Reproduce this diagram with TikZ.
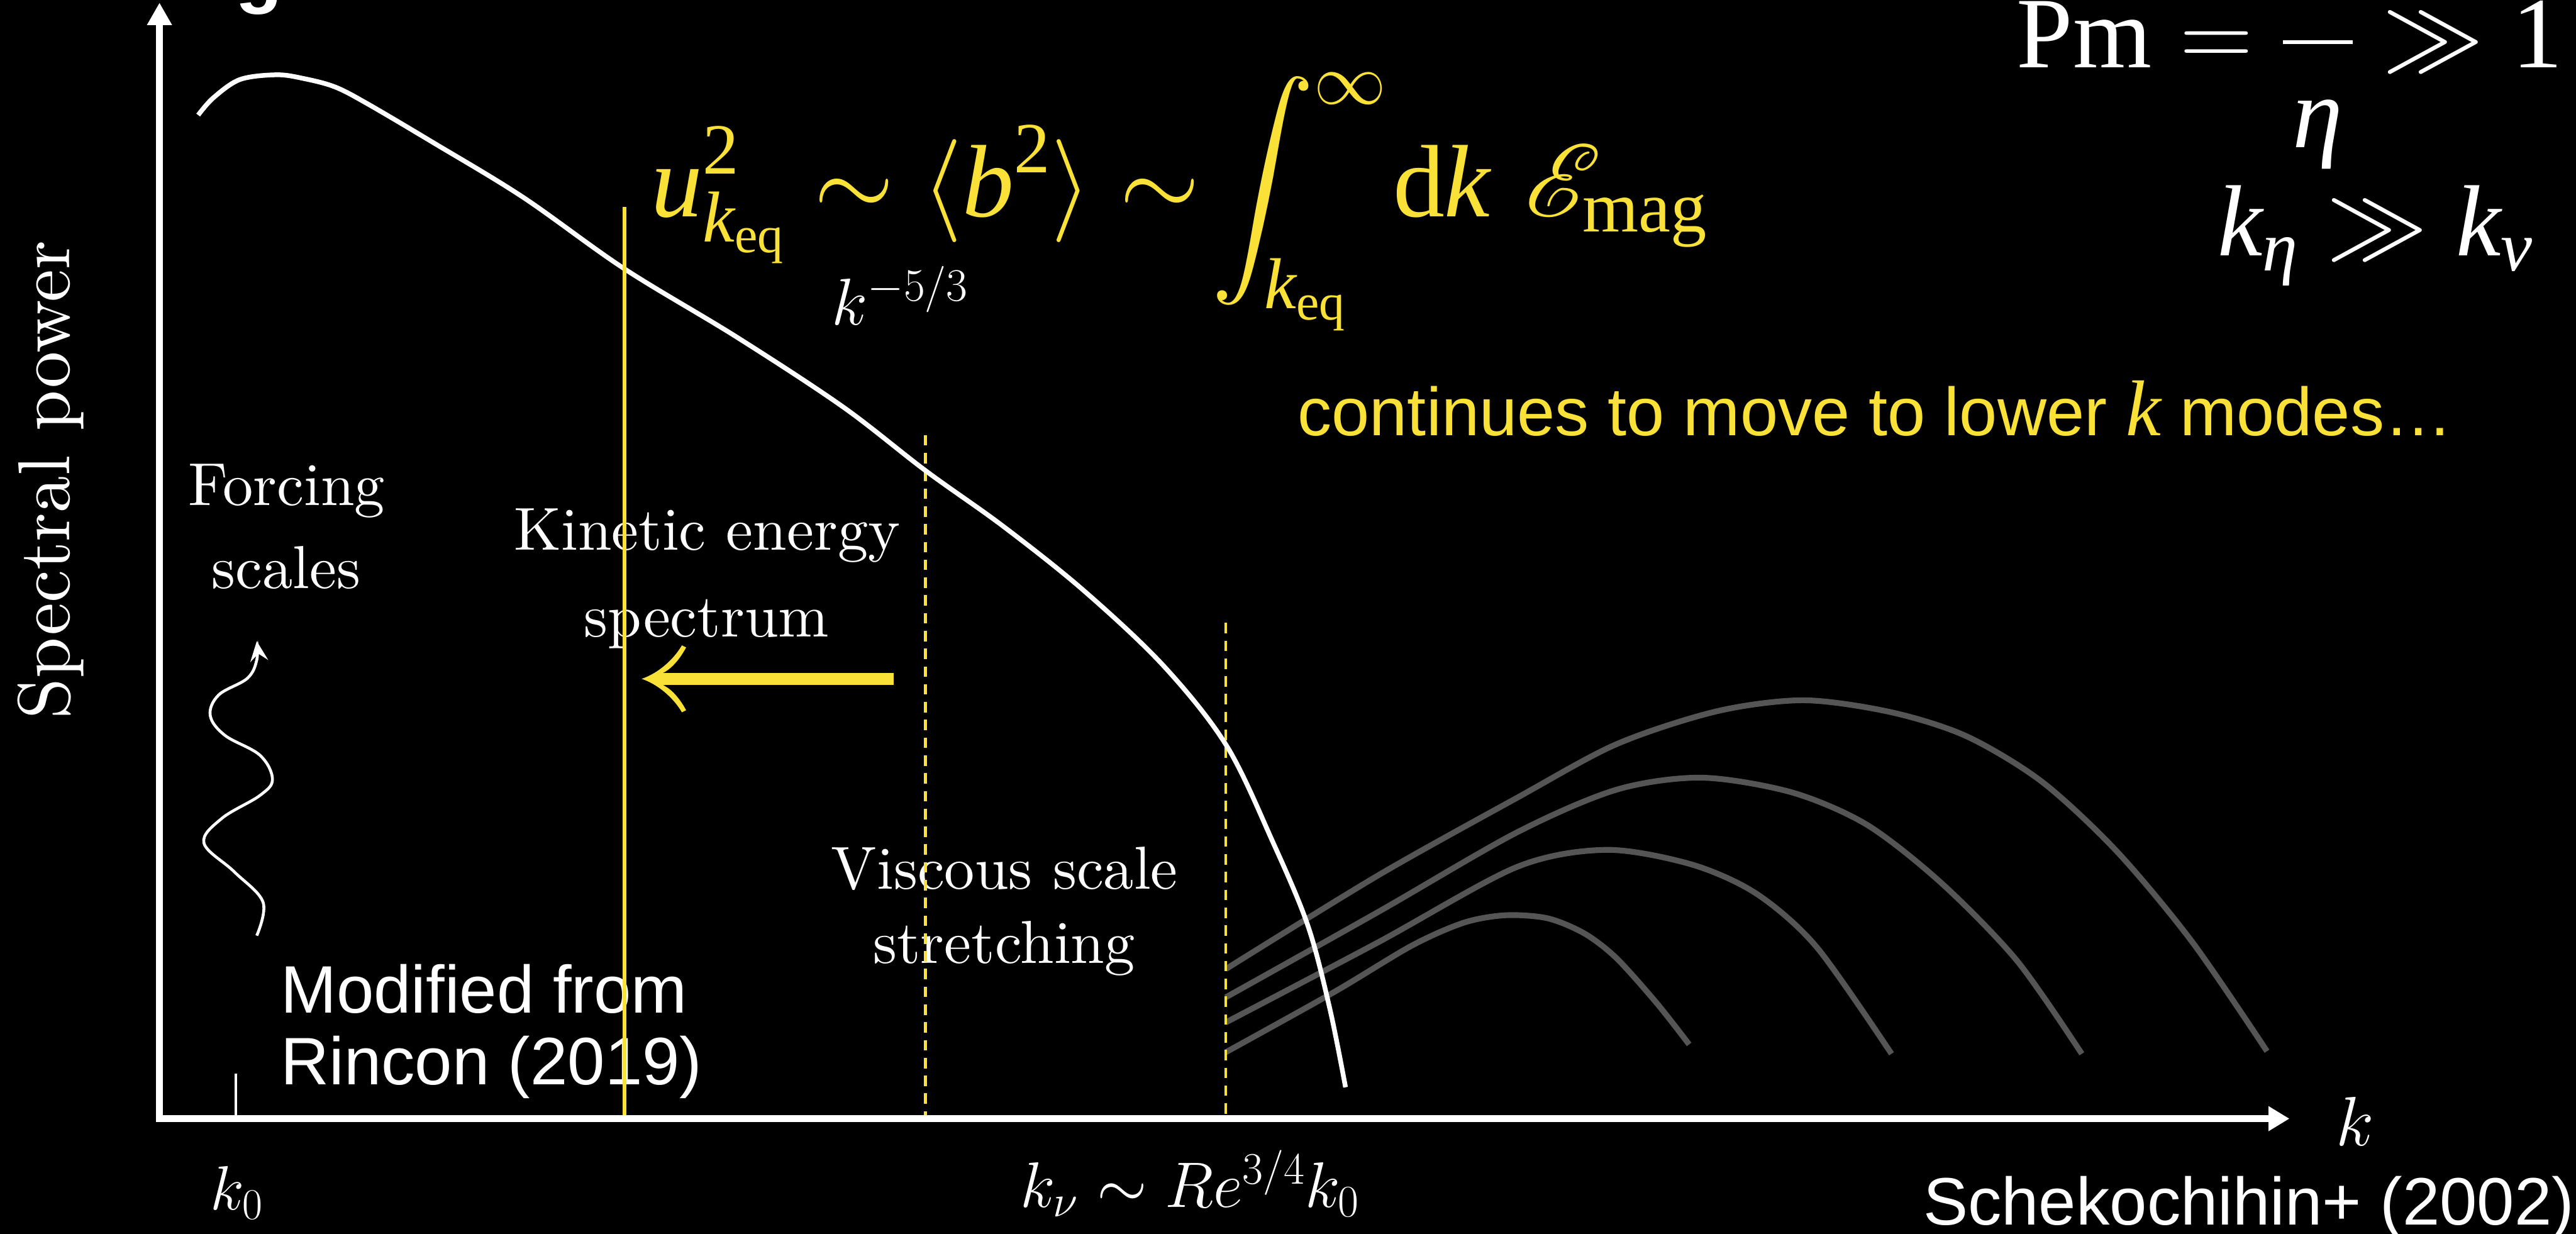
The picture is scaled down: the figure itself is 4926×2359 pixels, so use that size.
\documentclass[tikz,border=0pt]{standalone}
\usepackage{fix-cm}
\usepackage{amsmath}
\usepackage{mathrsfs}
\usepackage{fontspec}
\DeclareFontShape{OMX}{cmex}{m}{n}{<->cmex10}{}
\DeclareFontFamily{U}{rsfs}{\skewchar\font127 }
\DeclareFontShape{U}{rsfs}{m}{n}{<->rsfs10}{}
\usetikzlibrary{arrows.meta}
\newfontfamily\hel{Liberation Sans}
\newfontfamily\tms{Liberation Serif}
\newfontfamily\lmten{lmroman10-regular}[Extension=.otf]
\definecolor{ylw}{RGB}{249,225,56}
\definecolor{grayc}{RGB}{85,85,85}
\newcommand\tI[1]{\text{\tms\itshape #1}}
\newcommand\tR[1]{\text{\tms #1}}
\begin{document}
\begin{tikzpicture}[x=0.01cm,y=-0.01cm,
  lm/.style={text=white,inner sep=0,font=\lmten\fontsize{33}{40}\selectfont,anchor=base},
  lmmath/.style={text=white,inner sep=0,anchor=base west},
  helv/.style={text=white,inner sep=0,font=\hel\fontsize{36.5}{44}\selectfont,anchor=base west},
  ytext/.style={text=ylw,inner sep=0,anchor=base west},
  wtext/.style={text=white,inner sep=0,anchor=base west},
  graycurve/.style={draw=grayc,line width=0.11cm},
  whitecurve/.style={draw=white,line width=0.09cm},
  axisline/.style={draw=white,line width=0.13cm,line join=miter,
     {Triangle[length=0.43cm,width=0.45cm]}-{Triangle[length=0.40cm,width=0.45cm]}},
  ydash/.style={draw=ylw,line width=0.055cm,dash pattern=on 0.2cm off 0.14cm},
  ysolid/.style={draw=ylw,line width=0.08cm},
  wave/.style={draw=white,line width=0.055cm,-{Stealth[length=0.38cm,width=0.34cm,inset=0.14cm]}}]
\useasboundingbox (0,0) rectangle (4926,2359);
\fill[black] (0,0) rectangle (4926,2359);

% cut-off title fragment
\node[text=white,inner sep=0,anchor=base,font=\hel\bfseries\fontsize{42}{42}\selectfont] (gfrag) at (495,-3) {g};

% magnetic spectra (gray)
\draw[graycurve] plot[smooth,tension=0.5] coordinates {(2344,1853) (2635,1674) (2900,1526) (3091,1423) (3283,1360) (3450,1339) (3617,1362) (3761,1408) (3905,1495) (4048,1628) (4192,1801) (4335,2010)};
\draw[graycurve] plot[smooth,tension=0.5] coordinates {(2344,1907) (2635,1744) (2900,1592) (3091,1510) (3254,1487) (3426,1515) (3570,1577) (3713,1689) (3857,1837) (3981,2015)};
\draw[graycurve] plot[smooth,tension=0.5] coordinates {(2344,1955) (2635,1802) (2900,1658) (3072,1625) (3235,1653) (3359,1709) (3474,1811) (3617,2015)};
\draw[graycurve] plot[smooth,tension=0.5] coordinates {(2344,2012) (2551,1897) (2700,1808) (2800,1764) (2880,1750) (2960,1756) (3030,1785) (3091,1832) (3168,1918) (3230,1997)};

% labels (white, Latin Modern)
\node[lm,font=\lmten\fontsize{40}{48}\selectfont,rotate=90] (spec) at (133,918) {Spectral power};
\node[lm] (forc1) at (548,966) {Forcing};
\node[lm] (forc2) at (547,1125) {scales};
\node[lm] (kin1) at (1352,1052) {Kinetic energy};
\node[lm] (kin2) at (1351,1218) {spectrum};
\node[lm] (visc1) at (1921,1700) {Viscous scale};
\node[lm] (visc2) at (1920,1842) {stretching};
\node[lmmath,font=\fontsize{36}{40}\selectfont] (kfive) at (1590,621) {$k^{-5/3}$};
\node[lmmath,font=\fontsize{34}{40}\selectfont] (k0lab) at (402,2313) {$k_0$};
\node[lmmath,font=\fontsize{35}{40}\selectfont] (knu) at (1951,2308) {$k_\nu \sim Re^{3/4}k_0$};
\node[lmmath,font=\fontsize{38}{40}\selectfont] (klab) at (4466,2190) {$k$};

% Helvetica notes
\node[helv] (mod1) at (536,1937) {Modified from};
\node[helv] (mod2) at (536,2074) {Rincon (2019)};
\node[helv] (schek) at (3677,2342) {Schekochihin+ (2002)};
\node[ytext,font=\hel\fontsize{37}{44}\selectfont] (cont) at (2481,833) {continues to move to lower {\tms\itshape\fontsize{43}{44}\selectfont k} modes…};

% yellow formula
\node[ytext,font=\fontsize{56}{60}\selectfont] (eqn) at (1245,414)
  {$\displaystyle \tI{u}^{\tR{2}}_{\tI{k}_{\tR{eq}}} \sim \langle \tI{b}^{\tR{2}} \rangle \sim \mkern-3mu \int_{\mkern-1mu\tI{k}_{\tR{eq}}}^{\infty} \mkern-2mu \tR{d}\tI{k}\,\,\mathscr{E}_{\tR{mag}}$};

% top-right formulas
\node[wtext,font=\fontsize{55}{60}\selectfont] (pm) at (3856,129)
  {$\tR{Pm} = \dfrac{\mbox{\hspace{1.33cm}}}{\rule{0pt}{0.9em}\tI{η}} \gg \tR{1}$};
\node[wtext,font=\fontsize{55}{60}\selectfont] (kk) at (4240,489)
  {$\tI{k}_{\tI{η}} \gg \tI{k}_{\tI{ν}}$};

% coordinates
\coordinate (ytip) at (305,5);
\coordinate (orig) at (305,2139);
\coordinate (xtip) at (4378,2139);
\coordinate (tickTop) at (451,2053);
\coordinate (tickBot) at (451,2139);
\coordinate (keqTop) at (1194,396);
\coordinate (keqBot) at (1194,2132);
\coordinate (dashAtop) at (1770,832);
\coordinate (dashAbot) at (1770,2132);
\coordinate (dashBtop) at (2344,1191);
\coordinate (dashBbot) at (2344,2132);
\coordinate (arrS) at (1709,1298);
\coordinate (arrE) at (1227,1298);

% dashed scale markers
\draw[ydash] (dashAtop) -- (dashAbot);
\draw[ydash] (dashBtop) -- (dashBbot);

% kinetic energy spectrum
\draw[whitecurve] plot[smooth,tension=0.55] coordinates {(379,220) (408,187) (459,152) (529,143) (580,150) (640,166) (702,198) (829,273) (1000,377) (1194,514) (1408,644) (1612,778) (1770,900) (1918,1006) (2071,1128) (2224,1272) (2345,1425) (2434,1610) (2501,1770) (2543,1929) (2573,2079)};

% forcing squiggle
\draw[wave] plot[smooth,tension=0.6] coordinates {(491,1789) (503,1725) (448,1667) (390,1612) (424,1565) (497,1521) (521,1490) (497,1444) (430,1406) (402,1368) (418,1329) (473,1297) (491,1262) (491,1226)};

% axes
\draw[axisline] (ytip) -- (orig) -- (xtip);
\draw[white,line width=0.045cm] (tickTop) -- (tickBot);

% k_eq line
\draw[ysolid] (keqTop) -- (keqBot);

% yellow arrow
\draw[draw=ylw,line width=0.23cm] (arrS) -- ([xshift=0.4cm]arrE);
\begin{scope}[shift={(arrE)}]
\fill[ylw] (0,0) .. controls (30,-10) and (60,-35) .. (77,-64) -- (85,-60)
  .. controls (70,-32) and (52,-16) .. (40,-11) -- (45,-11) -- (45,12) -- (40,12)
  .. controls (52,16) and (70,32) .. (85,60) -- (77,64)
  .. controls (60,35) and (30,10) .. cycle;
\end{scope}
\end{tikzpicture}
\end{document}
